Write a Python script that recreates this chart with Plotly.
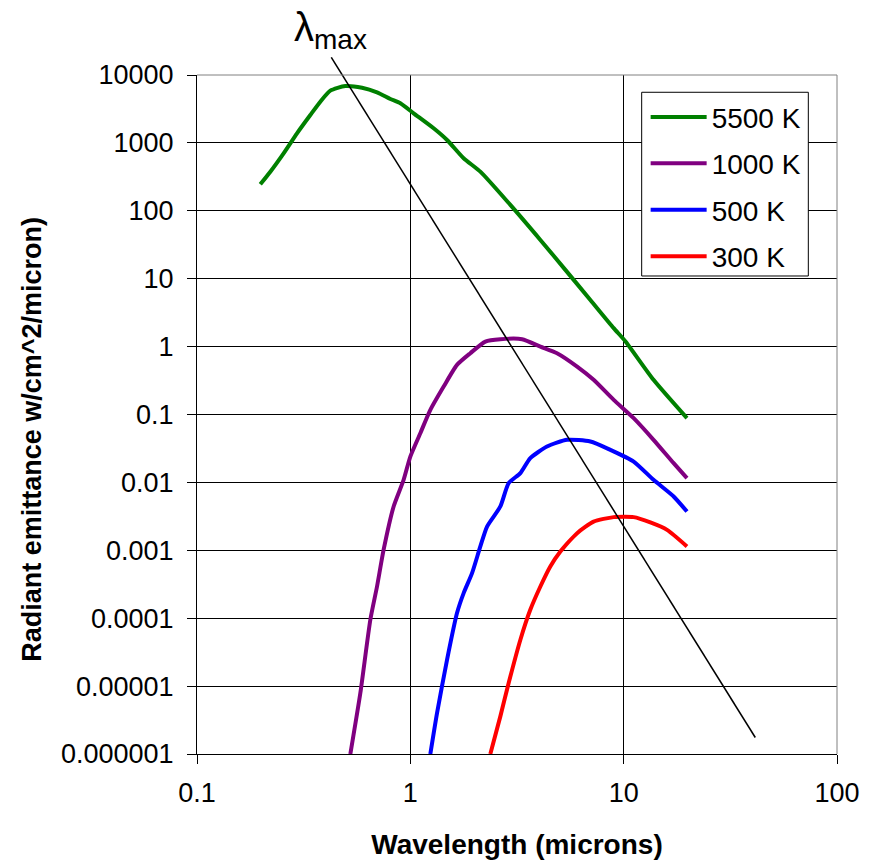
import plotly.graph_objects as go

# ---- data ----
wl_5500 = [0.198, 0.2207, 0.2547, 0.2943, 0.3398, 0.3785, 0.4217, 0.4958, 0.5938, 0.698, 0.806, 0.898,
           1.036, 1.286, 1.486, 1.778, 2.129, 2.943, 4.07, 5.33, 6.98, 8.98, 10.2, 13.8, 19.8]
em_5500 = [246, 377, 703, 1386, 2577, 4046, 5875, 6887, 6505, 5562, 4433, 3831,
           2730, 1642, 1105, 594, 377, 122, 37.2, 13.5, 4.87, 1.87, 1.19, 0.324, 0.0883]

wl_1000 = [0.5234, 0.583, 0.6494, 0.698, 0.7496, 0.835, 0.930, 1.0, 1.114, 1.241, 1.433, 1.655, 1.911,
           2.247, 2.642, 3.34, 4.07, 4.87, 6.05, 7.23, 8.98, 11.14, 13.8, 17.15, 19.8]
em_1000 = [1.0e-6, 7.9e-6, 9.5e-5, 2.93e-4, 1.02e-3, 4.42e-3, 0.0109, 0.024, 0.0531, 0.117, 0.258, 0.538, 0.8,
           1.186, 1.286, 1.286, 1.0, 0.8, 0.508, 0.324, 0.164, 0.0883, 0.0424, 0.0192, 0.01156]

wl_500 = [1.241, 1.334, 1.486, 1.655, 1.778, 1.947, 2.129, 2.289, 2.642, 2.89, 3.28, 3.65, 4.37, 5.43,
          6.98, 8.66, 11.14, 13.8, 17.15, 19.8]
em_500 = [1.0e-6, 4.0e-6, 2.44e-5, 1.19e-4, 2.34e-4, 4.61e-4, 1.14e-3, 2.24e-3, 4.42e-3, 9.75e-3, 0.0137,
          0.0228, 0.0337, 0.0424, 0.04, 0.0302, 0.0203, 0.0109, 6.2e-3, 3.72e-3]

wl_300 = [2.371, 2.642, 2.89, 3.28, 3.65, 4.07, 4.53, 5.05, 6.05, 7.23, 8.98, 11.14, 13.34, 15.97, 19.8]
em_300 = [1.0e-6, 3.58e-6, 1.11e-5, 4.82e-5, 1.33e-4, 2.93e-4, 5.78e-4, 9.6e-4, 1.79e-3, 2.65e-3,
          3.08e-3, 3.08e-3, 2.57e-3, 2.0e-3, 1.14e-3]

wien_x = [0.426, 41.4]
wien_y = [18200, 1.75e-6]

series_names = ["5500 K", "1000 K", "500 K", "300 K"]
series_colors = ["#008000", "#800080", "#0000FF", "#FF0000"]

x_tickvals = [0.1, 1, 10, 100]
x_ticktext = ["0.1", "1", "10", "100"]
y_tickvals = [1e4, 1e3, 1e2, 1e1, 1, 0.1, 0.01, 0.001, 1e-4, 1e-5, 1e-6]
y_ticktext = ["10000", "1000", "100", "10", "1", "0.1", "0.01", "0.001", "0.0001", "0.00001", "0.000001"]

x_title = "Wavelength (microns)"
y_title = "Radiant emittance w/cm^2/micron)"

FONT = "Liberation Sans, Arial, sans-serif"

fig = go.Figure()
series = [(wl_5500, em_5500), (wl_1000, em_1000), (wl_500, em_500), (wl_300, em_300)]
for (xs, ys), name, col in zip(series, series_names, series_colors):
    fig.add_trace(go.Scatter(x=xs, y=ys, mode="lines", name=name, legendgroup=name,
                             line=dict(color=col, width=4, shape="spline", smoothing=0.6),
                             xaxis="x", yaxis="y"))

# Wien displacement line, on an overlaid subplot whose area extends above the main plot
fig.add_trace(go.Scatter(x=wien_x, y=wien_y, mode="lines", showlegend=False,
                         line=dict(color="black", width=1.5), xaxis="x2", yaxis="y2"))

main_top = 679 / 697
fig.update_layout(
    width=877, height=862,
    margin=dict(l=197, r=40, t=57, b=108, autoexpand=False),
    paper_bgcolor="white", plot_bgcolor="rgba(0,0,0,0)",
    font=dict(family=FONT, size=27, color="black"),
    showlegend=True,
    legend=dict(x=0.701, y=0.9494, xanchor="left", yanchor="top",
                bgcolor="rgba(0,0,0,0)", borderwidth=0, tracegroupgap=7,
                font=dict(size=28), itemwidth=56),
    xaxis=dict(type="log", range=[-1, 2], domain=[0, 1], anchor="y", automargin=False,
               tickvals=x_tickvals, ticktext=x_ticktext,
               ticks="outside", ticklen=9, tickcolor="black", tickwidth=1,
               showline=True, linecolor="black", linewidth=1, mirror=False,
               showgrid=True, gridcolor="black", gridwidth=1, zeroline=False,
               tickfont=dict(size=27), ticklabelstandoff=6,
               title=dict(text="<b>" + x_title + "</b>", font=dict(size=28), standoff=26)),
    yaxis=dict(type="log", range=[-6, 4], domain=[0, main_top], anchor="x", automargin=False,
               tickvals=y_tickvals, ticktext=y_ticktext,
               ticks="outside", ticklen=9, tickcolor="black", tickwidth=1,
               showline=True, linecolor="black", linewidth=1, mirror=False,
               showgrid=True, gridcolor="black", gridwidth=1, zeroline=False,
               tickfont=dict(size=27), ticklabelstandoff=8),
    xaxis2=dict(type="log", range=[-1, 2], domain=[0, 1], anchor="y2", visible=False),
    yaxis2=dict(type="log", range=[-6, -6 + 10 * 697 / 679], domain=[0, 1], anchor="x2", visible=False),
    shapes=[
        # plot-area border (top and right), grey as in the reference
        dict(type="line", xref="paper", yref="paper", x0=0, x1=1, y0=main_top, y1=main_top,
             line=dict(color="#808080", width=1), layer="above"),
        dict(type="line", xref="paper", yref="paper", x0=1, x1=1, y0=0, y1=main_top,
             line=dict(color="#808080", width=1), layer="above"),
        # legend frame
        dict(type="rect", xref="paper", yref="paper", x0=0.6948, x1=0.9552, y0=0.6858, y1=0.9494,
             line=dict(color="black", width=1), fillcolor="white", layer="above"),
    ],
    annotations=[
        dict(text="λ<sub>max</sub>", xref="paper", yref="paper", x=0.149, y=1.078,
             xanchor="left", yanchor="top", showarrow=False,
             font=dict(size=40, family=FONT, color="black")),
        dict(text="<b>" + y_title + "</b>", xref="paper", yref="paper", x=-0.258, y=0.452,
             xanchor="center", yanchor="middle", textangle=-90, showarrow=False,
             font=dict(size=27, family=FONT, color="black")),
    ],
)

fig.write_html("out.html")
